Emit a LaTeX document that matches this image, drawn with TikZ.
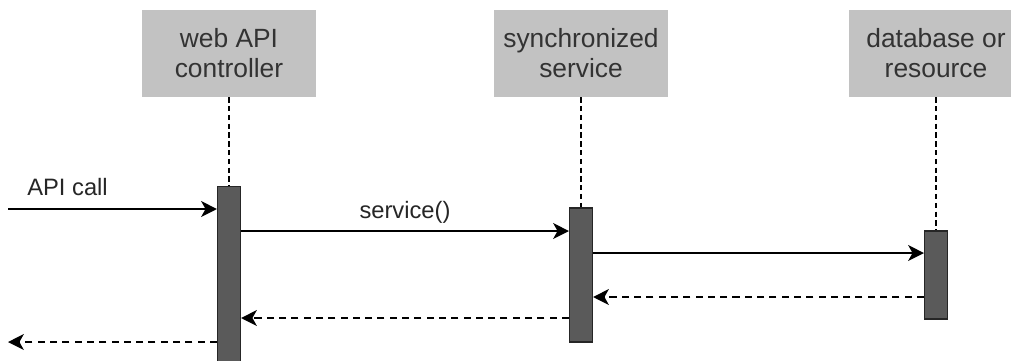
\documentclass[tikz,border=0pt]{standalone}
\usepackage{fontspec}
\setmainfont{Liberation Sans}
\usetikzlibrary{positioning, arrows.meta}

\definecolor{boxgray}{HTML}{C2C2C2}
\definecolor{bargray}{HTML}{5A5A5A}
\definecolor{textgray}{HTML}{333333}

\tikzset{
    actor/.style={
        fill=boxgray,
        minimum width=3.5cm,
        minimum height=1.74cm,
        align=center,
        text=textgray,
        font=\fontsize{15}{17}\selectfont,
        inner sep=0pt
    },
    activation/.style={
        draw=black!85,
        fill=bargray,
        line width=0.6pt,
        minimum width=0.46cm,
        inner sep=0pt
    },
    lifeline/.style={line width=0.9pt, dash pattern=on 3pt off 2pt},
    call/.style={line width=1pt, -{Stealth[length=9pt, width=9pt, inset=2.5pt]}},
    reply/.style={call, dash pattern=on 4pt off 3pt},
    msglabel/.style={text=black!85, font=\fontsize{13.5}{16}\selectfont, inner sep=0pt}
}

\begin{document}
\begin{tikzpicture}[x=0.02cm, y=-0.02cm]
    \useasboundingbox (0,0) rectangle (1011,360);

    % participants
    \node[actor] (ctrl) at (229,53.5) {web API\\controller};
    \node[actor] (svc) at (581,53.5) {synchronized\\service};
    \node[actor] (db) at (936,53.5) {database or\\resource};

    % activation bars
    \node[activation, minimum height=3.7cm] (ctrlbar) at (229,278.5) {};
    \node[activation, minimum height=2.68cm] (svcbar) at (581,275) {};
    \node[activation, minimum height=1.76cm] (dbbar) at (936,275) {};

    % lifelines
    \draw[lifeline] (ctrl.south) -- (ctrlbar.north);
    \draw[lifeline] (svc.south) -- (svcbar.north);
    \draw[lifeline] (db.south) -- (dbbar.north);

    % message levels
    \coordinate (caller) at (8,209);
    \coordinate (m1) at (0,231);
    \coordinate (m2) at (0,253);
    \coordinate (r1) at (0,297);
    \coordinate (r2) at (0,318);
    \coordinate (back) at (8,342);

    % messages
    \draw[call] (caller) -- (ctrlbar.west |- caller);
    \node[msglabel, anchor=base west] (apilbl) at (27,195) {API call};
    \draw[call] (ctrlbar.east |- m1) -- node[msglabel, above=4pt] (svclbl) {service()} (svcbar.west |- m1);
    \draw[call] (svcbar.east |- m2) -- (dbbar.west |- m2);

    % replies
    \draw[reply] (dbbar.west |- r1) -- (svcbar.east |- r1);
    \draw[reply] (svcbar.west |- r2) -- (ctrlbar.east |- r2);
    \draw[reply] (ctrlbar.west |- back) -- (back);
\end{tikzpicture}
\end{document}
